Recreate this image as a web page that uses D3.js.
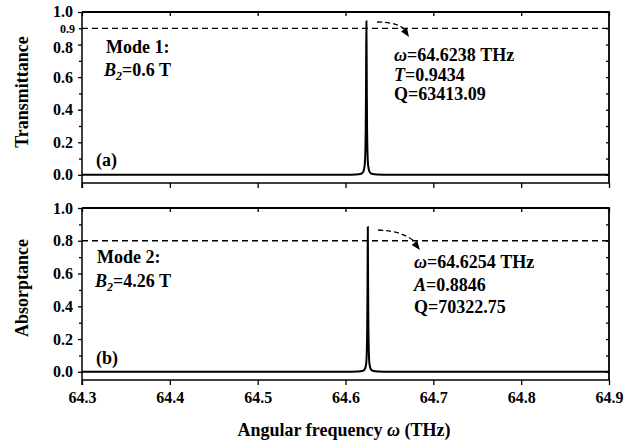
<!DOCTYPE html>
<html>
<head>
<meta charset="utf-8">
<script src="https://cdn.jsdelivr.net/npm/d3@7"></script>
<style>
  html, body { margin: 0; padding: 0; background: #fff; }
  svg { display: block; }
  svg text { font-family: "Liberation Serif", "Times New Roman", Tinos, "DejaVu Serif", serif !important; font-weight: bold; fill: #000; }
</style>
</head>
<body>
<svg id="chart" width="632" height="445"></svg>
<script>
// Spectra sampled around the resonance (frequency in THz)
const freqT = [64.3, 64.60, 64.612, 64.6178, 64.6203, 64.6218, 64.6226, 64.6230, 64.6233, 64.6235, 64.6238,
               64.6241, 64.6243, 64.6246, 64.6250, 64.6258, 64.6273, 64.6298, 64.636, 64.65, 64.9];
const transmittance = [0, 0.0005, 0.0017, 0.0066, 0.020, 0.057, 0.144, 0.27, 0.48, 0.70, 0.9434,
                       0.70, 0.48, 0.27, 0.144, 0.057, 0.020, 0.0066, 0.0017, 0.0005, 0];

const freqA = [64.3, 64.60, 64.614, 64.6199, 64.6222, 64.6236, 64.6243, 64.6247, 64.6250, 64.6252, 64.6254,
               64.6256, 64.6258, 64.6261, 64.6265, 64.6272, 64.6286, 64.6309, 64.637, 64.65, 64.9];
const absorptance = [0, 0.0005, 0.0016, 0.0060, 0.019, 0.052, 0.136, 0.26, 0.46, 0.68, 0.8846,
                     0.68, 0.46, 0.26, 0.136, 0.052, 0.019, 0.0060, 0.0016, 0.0005, 0];

const xTicks = [64.3, 64.4, 64.5, 64.6, 64.7, 64.8, 64.9];
const yTicks = [0.0, 0.2, 0.4, 0.6, 0.8, 1.0];
const yMinor = [0.1, 0.3, 0.5, 0.7, 0.9];
const yAll = [0.0, 0.1, 0.2, 0.3, 0.4, 0.5, 0.6, 0.7, 0.8, 0.9, 1.0];

const svg = d3.select("#chart");
const x = d3.scaleLinear().domain([64.3, 64.9]).range([82, 609]);

const panels = [
  { top: 12, bottom: 183, freq: freqT, vals: transmittance, ref: 0.9, refLabel: "0.9",
    ytitle: "Transmittance", tag: "(a)", mode: "Mode 1:", field: "0.6 T",
    sym: "T", peakText: ["=64.6238 THz", "=0.9434", "Q=63413.09"], showX: false,
    note: { x: 394, y0: 61, dy: 19.5 }, arrow: { x0: 377, y0: 22, cx: 399, cy: 22, x1: 409, y1: 37 },
    modePos: { x: 106, y: 53, dy: 23 }, tagPos: { x: 96, y: 166 }, ytitleY: 92 },
  { top: 208, bottom: 380, freq: freqA, vals: absorptance, ref: 0.8, refLabel: null,
    ytitle: "Absorptance", tag: "(b)", mode: "Mode 2:", field: "4.26 T",
    sym: "A", peakText: ["=64.6254 THz", "=0.8846", "Q=70322.75"], showX: true,
    note: { x: 414, y0: 268, dy: 22.5 }, arrow: { x0: 378, y0: 230, cx: 405, cy: 231, x1: 420, y1: 250 },
    modePos: { x: 97, y: 263, dy: 24 }, tagPos: { x: 96, y: 364 }, ytitleY: 288 }
];

panels.forEach(p => {
  const y = d3.scaleLinear().domain([-0.05, 1.0]).range([p.bottom, p.top]);
  const g = svg.append("g");

  // reference level
  g.append("line")
    .attr("x1", x.range()[0]).attr("x2", x.range()[1])
    .attr("y1", y(p.ref)).attr("y2", y(p.ref))
    .attr("stroke", "#000").attr("stroke-width", 1.3).attr("stroke-dasharray", "6,4");

  // spectrum
  const line = d3.line().x((d, i) => x(p.freq[i])).y(d => y(d)).curve(d3.curveMonotoneX);
  g.append("path").datum(p.vals)
    .attr("d", line).attr("fill", "none").attr("stroke", "#000").attr("stroke-width", 2);

  // left axis
  const left = g.append("g").attr("transform", `translate(${x.range()[0]},0)`)
    .call(d3.axisLeft(y).tickValues(yTicks).tickSize(4).tickPadding(5).tickFormat(d3.format(".1f")));
  const leftMinor = g.append("g").attr("transform", `translate(${x.range()[0]},0)`)
    .call(d3.axisLeft(y).tickValues(yMinor).tickSize(3).tickFormat(""));
  leftMinor.select(".domain").remove();
  // right axis (inward ticks)
  const right = g.append("g").attr("transform", `translate(${x.range()[1]},0)`)
    .call(d3.axisLeft(y).tickValues(yAll).tickSize(3).tickFormat(""));
  right.select(".domain").remove();
  // top axis (inward ticks)
  const topAx = g.append("g").attr("transform", `translate(0,${p.top})`)
    .call(d3.axisBottom(x).tickValues(xTicks).tickSize(4).tickFormat(""));
  topAx.select(".domain").remove();
  // bottom axis
  const bottom = g.append("g").attr("transform", `translate(0,${p.bottom})`)
    .call(d3.axisBottom(x).tickValues(xTicks).tickSize(5).tickPadding(7)
      .tickFormat(p.showX ? d3.format(".1f") : ""));

  [left, leftMinor, right, topAx, bottom].forEach(a => {
    a.attr("font-family", null);
    a.selectAll(".domain").attr("stroke-width", 1.5);
    a.selectAll("line").attr("stroke-width", 1.3);
    a.selectAll("text").attr("font-size", 16);
  });
  left.select(".domain").attr("d", `M0,${p.bottom + 5}V${p.top}`);
  bottom.select(".domain").attr("d", `M${x.range()[0]},0H${x.range()[1]}`);

  // frame top and right
  g.append("path")
    .attr("d", `M${x.range()[0]},${p.top}H${x.range()[1]}V${p.bottom}`)
    .attr("fill", "none").attr("stroke", "#000").attr("stroke-width", 1.8);

  if (p.refLabel) {
    g.append("text").attr("x", x.range()[0] - 7).attr("y", y(p.ref) + 1)
      .attr("text-anchor", "end").attr("font-size", 12).attr("dy", "0.32em")
      .text(p.refLabel);
    // nudge neighbouring labels so they clear the extra one
    left.selectAll(".tick text").filter(d => Math.abs(d - 0.8) < 1e-9).attr("dy", "0.5em");
    left.selectAll(".tick text").filter(d => Math.abs(d - 1.0) < 1e-9).attr("dy", "0.25em");
  }

  // y title
  svg.append("text")
    .attr("transform", `translate(28,${p.ytitleY}) rotate(-90)`)
    .attr("text-anchor", "middle").attr("font-size", 18)
    .text(p.ytitle);

  // mode annotation
  g.append("text").attr("x", p.modePos.x).attr("y", p.modePos.y).attr("font-size", 18).text(p.mode);
  const b = g.append("text").attr("x", p.modePos.x - 2).attr("y", p.modePos.y + p.modePos.dy).attr("font-size", 18);
  b.append("tspan").attr("font-style", "italic").text("B");
  b.append("tspan").attr("font-style", "italic").attr("font-size", 12).attr("dy", 4).text("2");
  b.append("tspan").attr("dy", -4).text("=" + p.field);

  g.append("text").attr("x", p.tagPos.x).attr("y", p.tagPos.y).attr("font-size", 18).text(p.tag);

  // resonance annotation
  const t1 = g.append("text").attr("x", p.note.x).attr("y", p.note.y0).attr("font-size", 18);
  t1.append("tspan").attr("font-style", "italic").text("ω");
  t1.append("tspan").text(p.peakText[0]);
  const t2 = g.append("text").attr("x", p.note.x).attr("y", p.note.y0 + p.note.dy).attr("font-size", 18);
  t2.append("tspan").attr("font-style", "italic").text(p.sym);
  t2.append("tspan").text(p.peakText[1]);
  g.append("text").attr("x", p.note.x).attr("y", p.note.y0 + 2 * p.note.dy).attr("font-size", 18)
    .text(p.peakText[2]);

  // dashed pointer with arrowhead
  const a = p.arrow;
  g.append("path")
    .attr("d", `M${a.x0},${a.y0}Q${a.cx},${a.cy} ${a.x1 - 3},${a.y1 - 6}`)
    .attr("fill", "none").attr("stroke", "#000").attr("stroke-width", 1.3).attr("stroke-dasharray", "5,3");
  const ang = Math.atan2(a.y1 - a.cy, a.x1 - a.cx);
  const L = 9, W = 3.5;
  const bx = a.x1 - L * Math.cos(ang), by = a.y1 - L * Math.sin(ang);
  g.append("path")
    .attr("d", `M${a.x1},${a.y1}L${bx - W * Math.sin(ang)},${by + W * Math.cos(ang)}L${bx + W * Math.sin(ang)},${by - W * Math.cos(ang)}Z`)
    .attr("fill", "#000");
});

// x title
const xt = svg.append("text").attr("x", 344).attr("y", 436).attr("text-anchor", "middle").attr("font-size", 18);
xt.append("tspan").text("Angular frequency ");
xt.append("tspan").attr("font-style", "italic").text("ω");
xt.append("tspan").text(" (THz)");
</script>
</body>
</html>
